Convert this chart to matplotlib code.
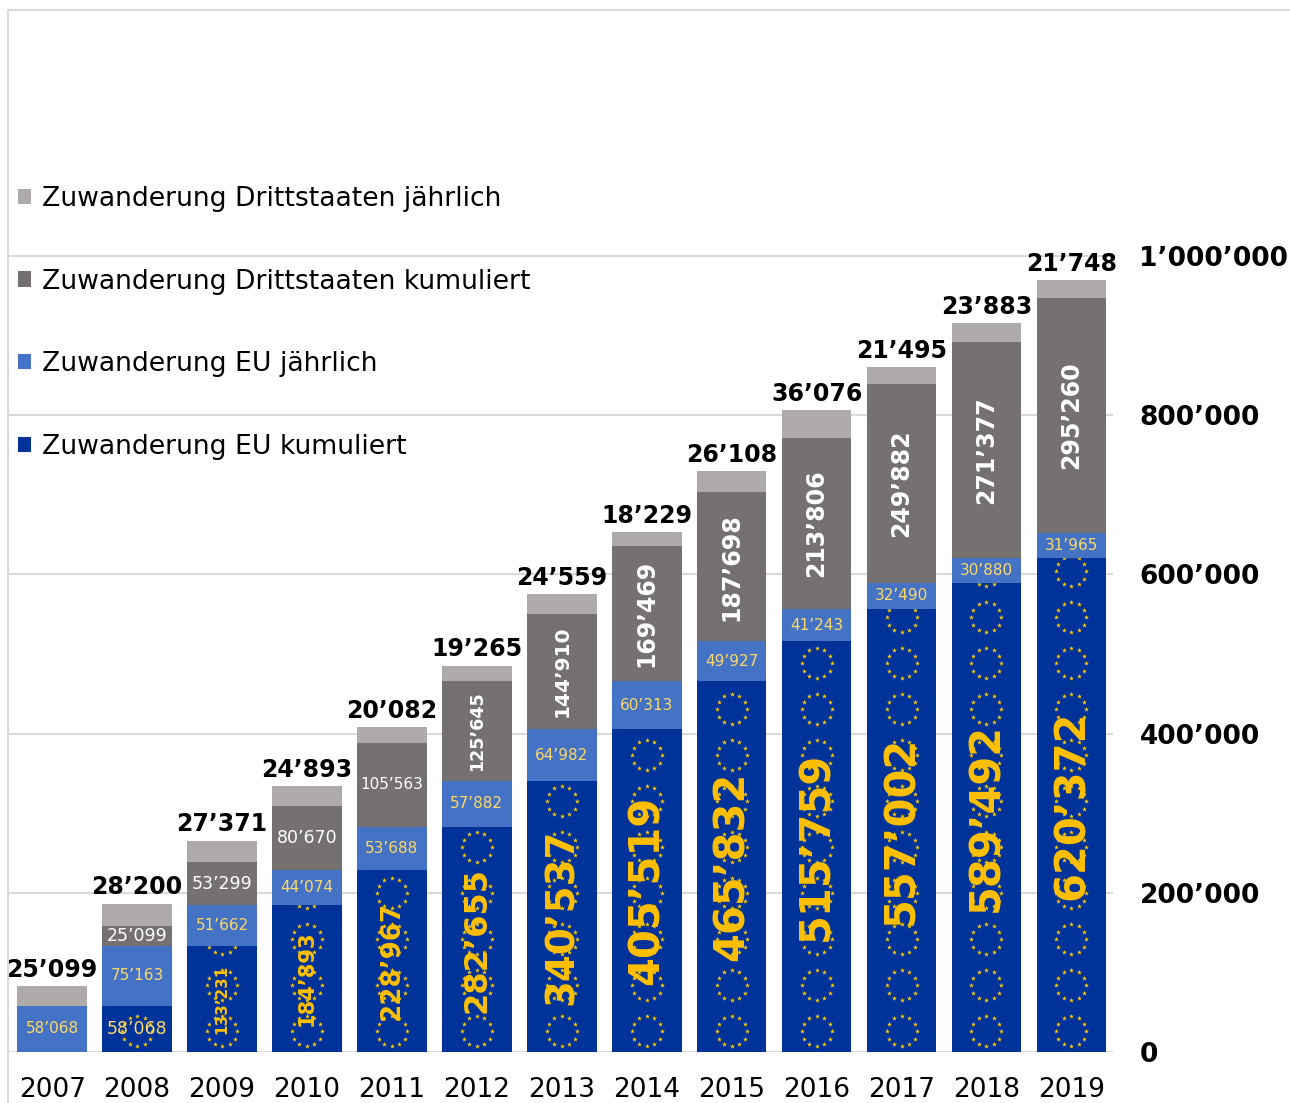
import numpy as np
import matplotlib
matplotlib.use('Agg')
import matplotlib.pyplot as plt
from matplotlib.lines import Line2D

# ---------------- data ----------------
years = ['2007', '2008', '2009', '2010', '2011', '2012', '2013',
         '2014', '2015', '2016', '2017', '2018', '2019']
eu_kum = [0, 58068, 133231, 184893, 228967, 282655, 340537,
          405519, 465832, 515759, 557002, 589492, 620372]
eu_jahr = [58068, 75163, 51662, 44074, 53688, 57882, 64982,
           60313, 49927, 41243, 32490, 30880, 31965]
dritt_kum = [0, 25099, 53299, 80670, 105563, 125645, 144910,
             169469, 187698, 213806, 249882, 271377, 295260]
dritt_jahr = [25099, 28200, 27371, 24893, 20082, 19265, 24559,
              18229, 26108, 36076, 21495, 23883, 21748]
y_ticks = [0, 200000, 400000, 600000, 800000, 1000000]
series_names = ['Zuwanderung EU kumuliert', 'Zuwanderung EU jährlich',
                'Zuwanderung Drittstaaten kumuliert', 'Zuwanderung Drittstaaten jährlich']

# ---------------- style ----------------
C_EUK = '#003399'
C_EUJ = '#4472C4'
C_DK = '#767171'
C_DJ = '#AEAAAA'
C_GRID = '#D9D9D9'
C_GOLD = '#FFC000'
C_PALE = '#FFD966'
C_STAR = '#FFCC00'

plt.rcParams['font.family'] = ['DejaVu Sans']

W, H = 1290, 1103
fig = plt.figure(figsize=(W / 100, H / 100), dpi=100)
ax_left, ax_right = 8 / W, 1113 / W
ax_bottom = (H - 1052) / H
ax_top = (H - 10) / H
ax = fig.add_axes([ax_left, ax_bottom, ax_right - ax_left, ax_top - ax_bottom])

px_per_unit = 796 / 1e6
ymax = (1052 - 10) / px_per_unit
ax.set_ylim(0, ymax)
ax.set_xlim(-0.52, len(years) - 1 + 0.49)

x = np.arange(len(years))
bw = 0.82
eu_kum_a = np.array(eu_kum)
eu_jahr_a = np.array(eu_jahr)
dk_a = np.array(dritt_kum)
dj_a = np.array(dritt_jahr)

b1 = ax.bar(x, eu_kum_a, bw, color=C_EUK, zorder=2, label=series_names[0])
b2 = ax.bar(x, eu_jahr_a, bw, bottom=eu_kum_a, color=C_EUJ, zorder=2, label=series_names[1])
b3 = ax.bar(x, dk_a, bw, bottom=eu_kum_a + eu_jahr_a, color=C_DK, zorder=2, label=series_names[2])
b4 = ax.bar(x, dj_a, bw, bottom=eu_kum_a + eu_jahr_a + dk_a, color=C_DJ, zorder=2, label=series_names[3])

# EU star-circle pattern on the cumulative EU bars
unit_x = 84.9  # px per category
r_x = 15 / unit_x
r_y = 15 / px_per_unit
phase = 21 / px_per_unit
period = 46 / px_per_unit
ang = np.deg2rad(np.arange(12) * 30)
for i, patch in enumerate(b1.patches):
    top = eu_kum_a[i]
    if top <= 0:
        continue
    centers = np.arange(phase, top + period, period)
    sx, sy = [], []
    for cy in centers:
        sx.extend(x[i] + r_x * np.sin(ang))
        sy.extend(cy + r_y * np.cos(ang))
    sc = ax.scatter(sx, sy, marker='*', s=14, color=C_STAR, linewidths=0, zorder=3)
    sc.set_clip_path(patch)

def fmt(v):
    return f'{v:,}'.replace(',', '\u2019')

# labels
for i in range(len(years)):
    # EU kumuliert
    v = eu_kum_a[i]
    if v > 0:
        cy = v / 2
        if v < 100000:
            ax.text(x[i], cy, fmt(v), ha='center', va='center', color=C_PALE,
                    fontsize=12.5, zorder=4)
        else:
            fs = min(30, 0.082 * v / 1000)
            ax.text(x[i], cy, fmt(v), ha='center', va='center', color=C_GOLD,
                    fontsize=fs, fontweight='bold', rotation=90, zorder=4)
    # EU jährlich
    v = eu_jahr_a[i]
    cy = eu_kum_a[i] + v / 2
    ax.text(x[i], cy, fmt(v), ha='center', va='center', color=C_PALE,
            fontsize=11, zorder=4)
    # Drittstaaten kumuliert
    v = dk_a[i]
    if v > 0:
        cy = eu_kum_a[i] + eu_jahr_a[i] + v / 2
        if v < 120000:
            fs = 12.5 if len(fmt(v)) <= 6 else 11
            ax.text(x[i], cy, fmt(v), ha='center', va='center', color='white',
                    fontsize=fs, zorder=4)
        else:
            fs = min(17, 0.1 * v / 1000)
            ax.text(x[i], cy, fmt(v), ha='center', va='center', color='white',
                    fontsize=fs, fontweight='bold', rotation=90, zorder=4)
    # Drittstaaten jährlich (above the bar)
    top = eu_kum_a[i] + eu_jahr_a[i] + dk_a[i] + dj_a[i]
    ax.annotate(fmt(dj_a[i]), (x[i], top), xytext=(0, 3), textcoords='offset points',
                ha='center', va='bottom', fontsize=17, fontweight='bold', color='black',
                zorder=4, annotation_clip=False)

# axes styling
for s in ax.spines.values():
    s.set_visible(False)
ax.set_yticks(y_ticks)
ax.set_yticklabels([fmt(t) for t in y_ticks], fontsize=19, fontweight='bold')
ax.yaxis.tick_right()
ax.tick_params(axis='y', length=0, pad=19)
ax.set_xticks(x)
ax.set_xticklabels(years, fontsize=19)
ax.tick_params(axis='x', length=0, pad=18)
ax.grid(axis='y', color=C_GRID, linewidth=1.5, zorder=0)
ax.set_axisbelow(True)

# legend (reverse order)
fig.legend([b4, b3, b2, b1],
           [series_names[3], series_names[2], series_names[1], series_names[0]],
           loc='upper left', bbox_to_anchor=(18 / W, (H - 186) / H),
           frameon=False, fontsize=19.2, handlelength=0.5, handleheight=0.5,
           handletextpad=0.4, labelspacing=2.12, borderpad=0, borderaxespad=0)

# chart border (left and top)
fig.add_artist(Line2D([8 / W, 8 / W, 1.0], [0, (H - 10) / H, (H - 10) / H],
                      transform=fig.transFigure, color=C_GRID, linewidth=1.5))

fig.savefig('out.png', dpi=100)
